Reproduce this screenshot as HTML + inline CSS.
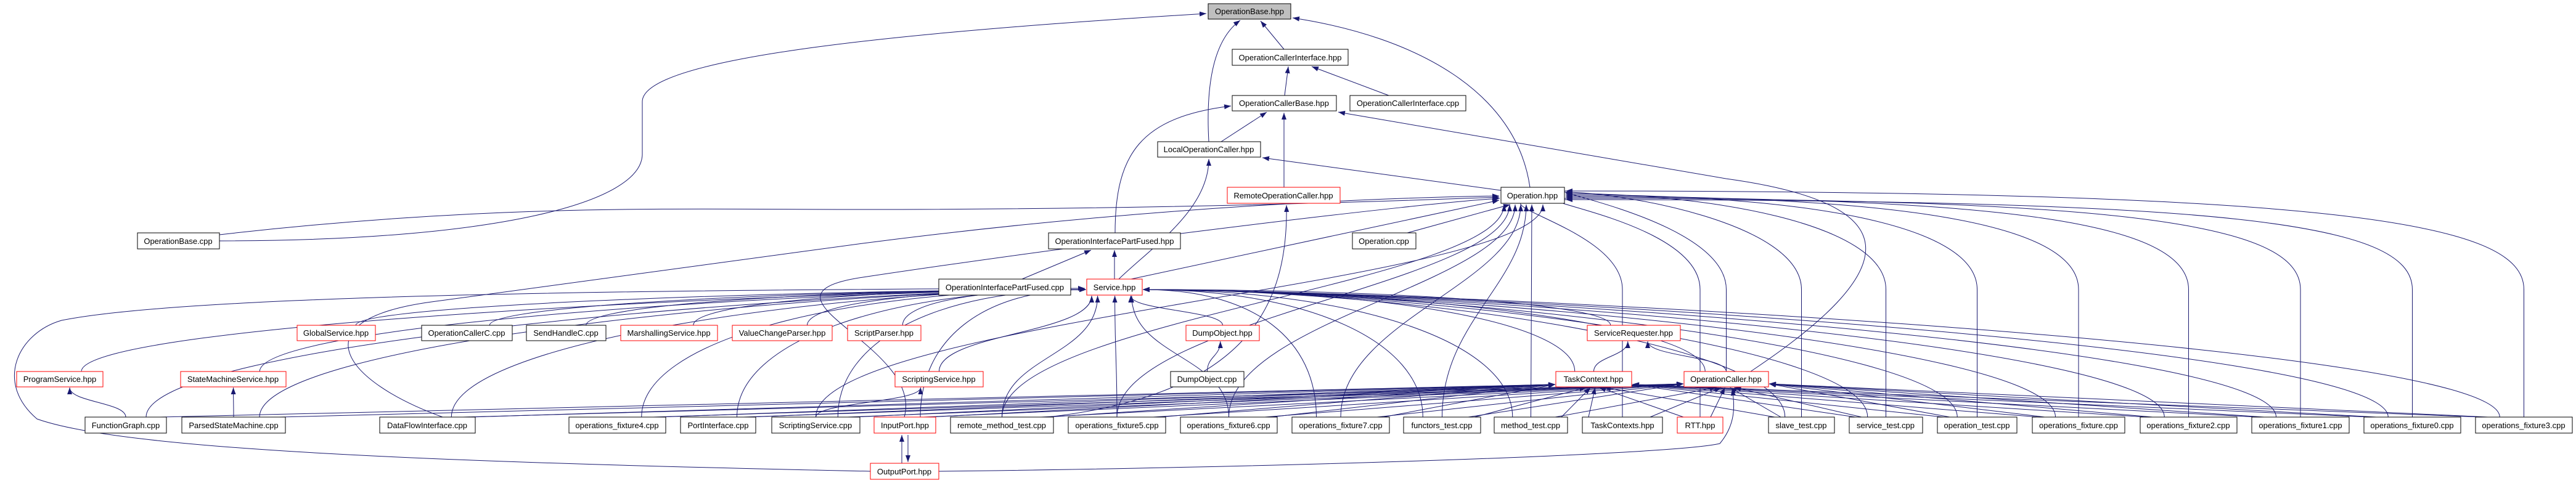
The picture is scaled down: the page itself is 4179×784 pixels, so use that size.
<!DOCTYPE html>
<html><head><meta charset="utf-8">
<style>
html,body{margin:0;padding:0;background:#fff;}
svg{display:block;}
text{font-family:"Liberation Sans",Arial,sans-serif;font-size:13px;fill:#000;}
</style></head>
<body>
<svg id="g" xmlns="http://www.w3.org/2000/svg" width="4179" height="784" viewBox="0 0 4179 784">
<defs>
<marker id="a" markerUnits="userSpaceOnUse" markerWidth="12" markerHeight="10" refX="11" refY="4" orient="auto">
<path d="M0,0 L11,4 L0,8 z" fill="#191970"/>
</marker>
</defs>
<g id="edges" fill="none" stroke="#191970" stroke-width="1"></g>
<g id="nodes">
<rect x="1960" y="6" width="134" height="25" fill="#bfbfbf" stroke="#000"/><text x="2027" y="23" text-anchor="middle">OperationBase.hpp</text>
<rect x="1999" y="80" width="188" height="26" fill="#fff" stroke="#000"/><text x="2093" y="98" text-anchor="middle">OperationCallerInterface.hpp</text>
<rect x="1999" y="155" width="169" height="25" fill="#fff" stroke="#000"/><text x="2083" y="172" text-anchor="middle">OperationCallerBase.hpp</text>
<rect x="2190" y="155" width="188" height="25" fill="#fff" stroke="#000"/><text x="2284" y="172" text-anchor="middle">OperationCallerInterface.cpp</text>
<rect x="1878" y="230" width="167" height="25" fill="#fff" stroke="#000"/><text x="1961" y="247" text-anchor="middle">LocalOperationCaller.hpp</text>
<rect x="1991" y="304" width="183" height="26" fill="#fff" stroke="#f00"/><text x="2082" y="322" text-anchor="middle">RemoteOperationCaller.hpp</text>
<rect x="2435" y="304" width="103" height="26" fill="#fff" stroke="#000"/><text x="2486" y="322" text-anchor="middle">Operation.hpp</text>
<rect x="1701" y="378" width="214" height="26" fill="#fff" stroke="#000"/><text x="1808" y="396" text-anchor="middle">OperationInterfacePartFused.hpp</text>
<rect x="2194" y="378" width="103" height="26" fill="#fff" stroke="#000"/><text x="2245" y="396" text-anchor="middle">Operation.cpp</text>
<rect x="223" y="378" width="133" height="26" fill="#fff" stroke="#000"/><text x="289" y="396" text-anchor="middle">OperationBase.cpp</text>
<rect x="1523" y="453" width="214" height="26" fill="#fff" stroke="#000"/><text x="1630" y="471" text-anchor="middle">OperationInterfacePartFused.cpp</text>
<rect x="1763" y="453" width="90" height="26" fill="#fff" stroke="#f00"/><text x="1808" y="471" text-anchor="middle">Service.hpp</text>

<rect x="482" y="528" width="127" height="25" fill="#fff" stroke="#f00"/><text x="545" y="545" text-anchor="middle">GlobalService.hpp</text>
<rect x="684" y="528" width="147" height="25" fill="#fff" stroke="#000"/><text x="757" y="545" text-anchor="middle">OperationCallerC.cpp</text>
<rect x="854" y="528" width="129" height="25" fill="#fff" stroke="#000"/><text x="918" y="545" text-anchor="middle">SendHandleC.cpp</text>
<rect x="1007" y="528" width="157" height="25" fill="#fff" stroke="#f00"/><text x="1085" y="545" text-anchor="middle">MarshallingService.hpp</text>
<rect x="1188" y="528" width="162" height="25" fill="#fff" stroke="#f00"/><text x="1269" y="545" text-anchor="middle">ValueChangeParser.hpp</text>
<rect x="1375" y="528" width="119" height="25" fill="#fff" stroke="#f00"/><text x="1434" y="545" text-anchor="middle">ScriptParser.hpp</text>
<rect x="1924" y="528" width="119" height="25" fill="#fff" stroke="#f00"/><text x="1983" y="545" text-anchor="middle">DumpObject.hpp</text>
<rect x="2575" y="528" width="151" height="25" fill="#fff" stroke="#f00"/><text x="2650" y="545" text-anchor="middle">ServiceRequester.hpp</text>

<rect x="27" y="603" width="140" height="25" fill="#fff" stroke="#f00"/><text x="97" y="620" text-anchor="middle">ProgramService.hpp</text>
<rect x="293" y="603" width="171" height="25" fill="#fff" stroke="#f00"/><text x="378" y="620" text-anchor="middle">StateMachineService.hpp</text>
<rect x="1452" y="603" width="143" height="25" fill="#fff" stroke="#f00"/><text x="1523" y="620" text-anchor="middle">ScriptingService.hpp</text>
<rect x="1899" y="603" width="119" height="25" fill="#fff" stroke="#000"/><text x="1958" y="620" text-anchor="middle">DumpObject.cpp</text>
<rect x="2524" y="603" width="123" height="25" fill="#fff" stroke="#f00"/><text x="2585" y="620" text-anchor="middle">TaskContext.hpp</text>
<rect x="2732" y="603" width="137" height="25" fill="#fff" stroke="#f00"/><text x="2800" y="620" text-anchor="middle">OperationCaller.hpp</text>

<rect x="138" y="677" width="132" height="26" fill="#fff" stroke="#000"/><text x="204" y="695" text-anchor="middle">FunctionGraph.cpp</text>
<rect x="295" y="677" width="168" height="26" fill="#fff" stroke="#000"/><text x="379" y="695" text-anchor="middle">ParsedStateMachine.cpp</text>
<rect x="616" y="677" width="155" height="26" fill="#fff" stroke="#000"/><text x="693" y="695" text-anchor="middle">DataFlowInterface.cpp</text>
<rect x="923" y="677" width="157" height="26" fill="#fff" stroke="#000"/><text x="1001" y="695" text-anchor="middle">operations_fixture4.cpp</text>
<rect x="1104" y="677" width="122" height="26" fill="#fff" stroke="#000"/><text x="1165" y="695" text-anchor="middle">PortInterface.cpp</text>
<rect x="1252" y="677" width="143" height="26" fill="#fff" stroke="#000"/><text x="1323" y="695" text-anchor="middle">ScriptingService.cpp</text>
<rect x="1418" y="677" width="100" height="26" fill="#fff" stroke="#f00"/><text x="1468" y="695" text-anchor="middle">InputPort.hpp</text>
<rect x="1542" y="677" width="167" height="26" fill="#fff" stroke="#000"/><text x="1625" y="695" text-anchor="middle">remote_method_test.cpp</text>
<rect x="1733" y="677" width="158" height="26" fill="#fff" stroke="#000"/><text x="1812" y="695" text-anchor="middle">operations_fixture5.cpp</text>
<rect x="1915" y="677" width="157" height="26" fill="#fff" stroke="#000"/><text x="1993" y="695" text-anchor="middle">operations_fixture6.cpp</text>
<rect x="2096" y="677" width="158" height="26" fill="#fff" stroke="#000"/><text x="2175" y="695" text-anchor="middle">operations_fixture7.cpp</text>
<rect x="2277" y="677" width="125" height="26" fill="#fff" stroke="#000"/><text x="2339" y="695" text-anchor="middle">functors_test.cpp</text>
<rect x="2424" y="677" width="119" height="26" fill="#fff" stroke="#000"/><text x="2483" y="695" text-anchor="middle">method_test.cpp</text>
<rect x="2567" y="677" width="130" height="26" fill="#fff" stroke="#000"/><text x="2632" y="695" text-anchor="middle">TaskContexts.hpp</text>
<rect x="2721" y="677" width="74" height="26" fill="#fff" stroke="#f00"/><text x="2758" y="695" text-anchor="middle">RTT.hpp</text>
<rect x="2869" y="677" width="107" height="26" fill="#fff" stroke="#000"/><text x="2922" y="695" text-anchor="middle">slave_test.cpp</text>
<rect x="3000" y="677" width="119" height="26" fill="#fff" stroke="#000"/><text x="3059" y="695" text-anchor="middle">service_test.cpp</text>
<rect x="3143" y="677" width="129" height="26" fill="#fff" stroke="#000"/><text x="3207" y="695" text-anchor="middle">operation_test.cpp</text>
<rect x="3297" y="677" width="150" height="26" fill="#fff" stroke="#000"/><text x="3372" y="695" text-anchor="middle">operations_fixture.cpp</text>
<rect x="3472" y="677" width="157" height="26" fill="#fff" stroke="#000"/><text x="3550" y="695" text-anchor="middle">operations_fixture2.cpp</text>
<rect x="3653" y="677" width="158" height="26" fill="#fff" stroke="#000"/><text x="3732" y="695" text-anchor="middle">operations_fixture1.cpp</text>
<rect x="3835" y="677" width="157" height="26" fill="#fff" stroke="#000"/><text x="3913" y="695" text-anchor="middle">operations_fixture0.cpp</text>
<rect x="4016" y="677" width="157" height="26" fill="#fff" stroke="#000"/><text x="4094" y="695" text-anchor="middle">operations_fixture3.cpp</text>
<rect x="1412" y="752" width="111" height="26" fill="#fff" stroke="#f00"/><text x="1467" y="770" text-anchor="middle">OutputPort.hpp</text>
</g>
</svg>
<script>
(function(){
var g=document.getElementById('edges');
var N={};
var rs=document.querySelectorAll('#nodes rect');
var ts=document.querySelectorAll('#nodes text');
for(var i=0;i<rs.length;i++){var r=rs[i];var x=+r.getAttribute('x'),y=+r.getAttribute('y'),w=+r.getAttribute('width'),h=+r.getAttribute('height');N[ts[i].textContent]={x1:x,y1:y,x2:x+w,y2:y+h,cx:x+w/2,cy:y+h/2};}
function P(d){var p=document.createElementNS('http://www.w3.org/2000/svg','path');p.setAttribute('d',d);p.setAttribute('marker-end','url(#a)');g.appendChild(p);}
function E(c,p){var a=N[c],b=N[p];if(!a||!b)return;
 var sx=a.cx,sy=a.y1,dx=b.cx-sx;
 if(a.y1<=b.y2+2){ // same row or above: side
   var ex=dx>0?b.x1-1:b.x2+1,ey=b.cy;sx=dx>0?a.x2:a.x1;sy=a.cy;
   P('M'+sx+','+sy+' C'+(sx+dx/3)+','+sy+' '+(ex-dx/3)+','+ey+' '+ex+','+ey);return;}
 if(Math.abs(dx)<(b.x2-b.x1)/2+250){
   var ex=Math.max(b.x1+8,Math.min(b.x2-8,sx+(dx>0?0:0)));ex=Math.max(b.x1+8,Math.min(b.x2-8,b.cx-dx*0.15));
   var ey=b.y2+1,my=(sy+ey)/2;
   P('M'+sx+','+sy+' C'+sx+','+my+' '+ex+','+my+' '+ex+','+ey);
 }else{
   var ex=dx>0?b.x1-1:b.x2+1,ey=b.cy+4,d=Math.min(400,Math.abs(dx)/2);
   var sx2=dx>0?a.cx+ (a.x2-a.x1)/4:a.cx-(a.x2-a.x1)/4;
   P('M'+sx2+','+sy+' C'+sx2+','+(sy-(sy-ey)*0.6)+' '+(dx>0?ex-d:ex+d)+','+ey+' '+ex+','+ey);
 }}
// custom top edges
P('M2083,80 L2045,34');
P('M1961,230 C1955,120 1975,60 2012,33');
P('M2482,304 C2460,150 2300,60 2097,29');
P('M356,391 C800,391 1042,330 1042,250 L1042,165 C1042,90 1500,50 1957,22');
P('M356,381 C800,330 1100,340 1400,340 C1900,340 2300,325 2432,320');
P('M2084,155 L2090,108');
P('M2253,155 L2128,108');
P('M1981,230 L2055,182');
P('M2083,304 L2083,183');
P('M1809,378 C1809,250 1850,190 1997,172');
P('M2840,603 C3100,430 3090,330 2800,290 L2171,182');
P('M2435,309 L2048,256');
P('M1815,453 C1870,400 1961,340 1961,258');
P('M1808,453 L1808,406');
P('M1658,453 L1770,406');
P('M1835,453 L2432,325');
P('M2283,378 L2450,332');
P('M1700,677 C2020,640 2090,500 2087,333');
P('M718,677 C560,620 480,520 700,490 L1400,395 C1900,330 2300,320 2432,318');
P('M1467,677 C1500,560 1200,480 1400,450 C1800,390 2300,330 2433,322');
P('M1412,765 C700,750 200,730 60,680 C-10,620 30,540 100,520 C300,480 1000,470 1760,468');
P('M1523,765 C2000,760 2700,740 2790,720 C2815,690 2815,660 2810,631');
P('M1463,752 L1463,706');P('M1473,706 L1473,750');
// Operation.hpp includers
['remote_method_test.cpp','operations_fixture5.cpp','operations_fixture6.cpp','operations_fixture7.cpp','functors_test.cpp','method_test.cpp','TaskContexts.hpp','RTT.hpp','OperationCaller.hpp','slave_test.cpp','service_test.cpp','operation_test.cpp','operations_fixture.cpp','operations_fixture2.cpp','operations_fixture1.cpp','operations_fixture0.cpp','operations_fixture3.cpp','ScriptingService.cpp'].forEach(function(n,i){var a=N[n];var sx=a.cx,sy=a.y1;
 if(sx>2560){var ex=2540,ey=310+(i%8)*2;P('M'+sx+','+sy+' L'+sx+','+470+' C'+sx+','+360+' '+(sx-300)+','+ey+' '+ex+','+ey);}
 else{var ex=2440+((i*9)%90),ey=332;P('M'+sx+','+sy+' C'+sx+','+520+' '+ex+','+460+' '+ex+','+ey);}});
// Service.hpp includers
['GlobalService.hpp','OperationCallerC.cpp','SendHandleC.cpp','MarshallingService.hpp','ValueChangeParser.hpp','ScriptParser.hpp','DumpObject.hpp','ServiceRequester.hpp','ProgramService.hpp','StateMachineService.hpp','ScriptingService.hpp','TaskContext.hpp','OperationCaller.hpp','FunctionGraph.cpp','ParsedStateMachine.cpp','DataFlowInterface.cpp','operations_fixture4.cpp','PortInterface.cpp','ScriptingService.cpp','InputPort.hpp','remote_method_test.cpp','operations_fixture5.cpp','operations_fixture6.cpp','operations_fixture7.cpp','functors_test.cpp','method_test.cpp','slave_test.cpp','service_test.cpp','operation_test.cpp','operations_fixture.cpp','operations_fixture2.cpp','operations_fixture1.cpp','operations_fixture0.cpp','operations_fixture3.cpp'].forEach(function(n){E(n,'Service.hpp');});
E('FunctionGraph.cpp','ProgramService.hpp');E('ParsedStateMachine.cpp','StateMachineService.hpp');
E('ScriptingService.cpp','ScriptingService.hpp');E('DumpObject.cpp','DumpObject.hpp');E('TaskContext.hpp','ServiceRequester.hpp');
E('OperationCaller.hpp','ServiceRequester.hpp');
// TaskContext / OperationCaller includers (straight lines)
var bot=['FunctionGraph.cpp','ParsedStateMachine.cpp','DataFlowInterface.cpp','operations_fixture4.cpp','PortInterface.cpp','ScriptingService.cpp','InputPort.hpp','remote_method_test.cpp','operations_fixture5.cpp','operations_fixture6.cpp','operations_fixture7.cpp','functors_test.cpp','method_test.cpp','TaskContexts.hpp','RTT.hpp','slave_test.cpp','service_test.cpp','operation_test.cpp','operations_fixture.cpp','operations_fixture2.cpp','operations_fixture1.cpp','operations_fixture0.cpp','operations_fixture3.cpp'];
bot.forEach(function(n,i){var a=N[n],t=N['TaskContext.hpp'],o=N['OperationCaller.hpp'];
 var sx=a.cx<t.cx?a.x2-10:a.x1+10;var ex=Math.max(t.x1+4,Math.min(t.x2-4,t.cx+(a.cx-t.cx)*0.05));
 var ey=t.y2+1; if(Math.abs(a.cx-t.cx)>400){ex=a.cx<t.cx?t.x1-1:t.x2+1;ey=t.y2-4;}
 P('M'+sx+','+a.y1+' L'+ex+','+ey);
 if(n=='TaskContexts.hpp'||n.indexOf('fixture')>=0||n.indexOf('test')>=0||n=='RTT.hpp'||n=='InputPort.hpp'||n=='ScriptingService.cpp'||n=='PortInterface.cpp'||n=='DataFlowInterface.cpp'){
 var ex2=Math.max(o.x1+4,Math.min(o.x2-4,o.cx+(a.cx-o.cx)*0.05)),ey2=o.y2+1;
 if(Math.abs(a.cx-o.cx)>400){ex2=a.cx<o.cx?o.x1-1:o.x2+1;ey2=o.y2-5;}
 P('M'+(a.cx<o.cx?a.x2-20:a.x1+20)+','+a.y1+' L'+ex2+','+ey2);}
});
})();
</script>
</body></html>
